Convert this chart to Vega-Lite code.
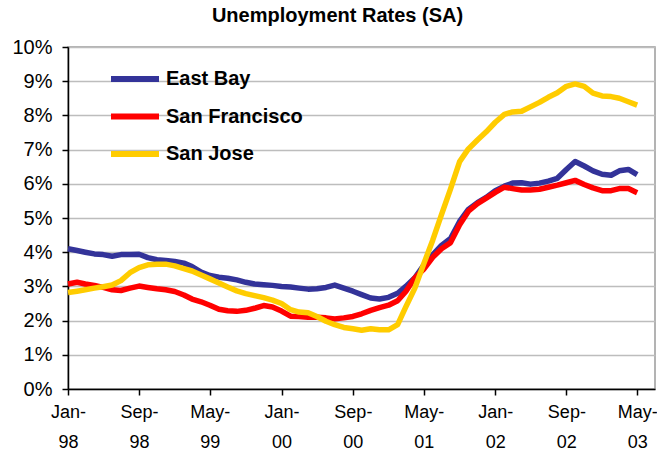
{
  "$schema": "https://vega.github.io/schema/vega-lite/v6.json",
  "width": 587,
  "height": 342,
  "autosize": {"type": "none"},
  "padding": {"left": 68, "top": 47, "right": 2, "bottom": 67},
  "background": "white",
  "title": {"text": "Unemployment Rates (SA)", "font": "Liberation Sans", "fontSize": 20, "fontWeight": "bold", "color": "black", "anchor": "middle", "dx": -24, "offset": 11},
  "config": {
    "view": {"stroke": "#9a9a9a", "strokeWidth": 1.5},
    "font": "Liberation Sans"
  },
  "data": {"values": [
    {"d":"1998-01-01","East Bay":4.10,"San Francisco":3.07,"San Jose":2.82},
    {"d":"1998-02-01","East Bay":4.05,"San Francisco":3.12,"San Jose":2.86},
    {"d":"1998-03-01","East Bay":4.00,"San Francisco":3.07,"San Jose":2.90},
    {"d":"1998-04-01","East Bay":3.95,"San Francisco":3.03,"San Jose":2.95},
    {"d":"1998-05-01","East Bay":3.93,"San Francisco":2.97,"San Jose":2.99},
    {"d":"1998-06-01","East Bay":3.88,"San Francisco":2.90,"San Jose":3.04},
    {"d":"1998-07-01","East Bay":3.93,"San Francisco":2.88,"San Jose":3.17},
    {"d":"1998-08-01","East Bay":3.93,"San Francisco":2.95,"San Jose":3.40},
    {"d":"1998-09-01","East Bay":3.94,"San Francisco":3.01,"San Jose":3.55},
    {"d":"1998-10-01","East Bay":3.84,"San Francisco":2.97,"San Jose":3.63},
    {"d":"1998-11-01","East Bay":3.78,"San Francisco":2.93,"San Jose":3.65},
    {"d":"1998-12-01","East Bay":3.76,"San Francisco":2.90,"San Jose":3.65},
    {"d":"1999-01-01","East Bay":3.73,"San Francisco":2.85,"San Jose":3.60},
    {"d":"1999-02-01","East Bay":3.68,"San Francisco":2.75,"San Jose":3.52},
    {"d":"1999-03-01","East Bay":3.58,"San Francisco":2.63,"San Jose":3.45},
    {"d":"1999-04-01","East Bay":3.42,"San Francisco":2.55,"San Jose":3.33},
    {"d":"1999-05-01","East Bay":3.32,"San Francisco":2.45,"San Jose":3.22},
    {"d":"1999-06-01","East Bay":3.27,"San Francisco":2.33,"San Jose":3.10},
    {"d":"1999-07-01","East Bay":3.24,"San Francisco":2.29,"San Jose":2.98},
    {"d":"1999-08-01","East Bay":3.19,"San Francisco":2.27,"San Jose":2.87},
    {"d":"1999-09-01","East Bay":3.12,"San Francisco":2.30,"San Jose":2.79},
    {"d":"1999-10-01","East Bay":3.07,"San Francisco":2.36,"San Jose":2.73},
    {"d":"1999-11-01","East Bay":3.05,"San Francisco":2.44,"San Jose":2.67},
    {"d":"1999-12-01","East Bay":3.03,"San Francisco":2.40,"San Jose":2.60},
    {"d":"2000-01-01","East Bay":3.00,"San Francisco":2.28,"San Jose":2.50},
    {"d":"2000-02-01","East Bay":2.98,"San Francisco":2.13,"San Jose":2.32},
    {"d":"2000-03-01","East Bay":2.95,"San Francisco":2.12,"San Jose":2.25},
    {"d":"2000-04-01","East Bay":2.92,"San Francisco":2.10,"San Jose":2.23},
    {"d":"2000-05-01","East Bay":2.93,"San Francisco":2.10,"San Jose":2.12},
    {"d":"2000-06-01","East Bay":2.97,"San Francisco":2.08,"San Jose":1.98},
    {"d":"2000-07-01","East Bay":3.04,"San Francisco":2.05,"San Jose":1.88},
    {"d":"2000-08-01","East Bay":2.95,"San Francisco":2.08,"San Jose":1.80},
    {"d":"2000-09-01","East Bay":2.86,"San Francisco":2.12,"San Jose":1.76},
    {"d":"2000-10-01","East Bay":2.76,"San Francisco":2.20,"San Jose":1.72},
    {"d":"2000-11-01","East Bay":2.66,"San Francisco":2.30,"San Jose":1.76},
    {"d":"2000-12-01","East Bay":2.63,"San Francisco":2.38,"San Jose":1.73},
    {"d":"2001-01-01","East Bay":2.68,"San Francisco":2.45,"San Jose":1.73},
    {"d":"2001-02-01","East Bay":2.80,"San Francisco":2.58,"San Jose":1.88},
    {"d":"2001-03-01","East Bay":3.00,"San Francisco":2.85,"San Jose":2.40},
    {"d":"2001-04-01","East Bay":3.25,"San Francisco":3.25,"San Jose":2.95},
    {"d":"2001-05-01","East Bay":3.62,"San Francisco":3.50,"San Jose":3.65},
    {"d":"2001-06-01","East Bay":3.92,"San Francisco":3.85,"San Jose":4.35},
    {"d":"2001-07-01","East Bay":4.20,"San Francisco":4.10,"San Jose":5.10},
    {"d":"2001-08-01","East Bay":4.40,"San Francisco":4.28,"San Jose":5.85},
    {"d":"2001-09-01","East Bay":4.90,"San Francisco":4.80,"San Jose":6.65},
    {"d":"2001-10-01","East Bay":5.25,"San Francisco":5.20,"San Jose":7.02},
    {"d":"2001-11-01","East Bay":5.45,"San Francisco":5.42,"San Jose":7.28},
    {"d":"2001-12-01","East Bay":5.60,"San Francisco":5.58,"San Jose":7.52},
    {"d":"2002-01-01","East Bay":5.80,"San Francisco":5.75,"San Jose":7.80},
    {"d":"2002-02-01","East Bay":5.93,"San Francisco":5.90,"San Jose":8.03},
    {"d":"2002-03-01","East Bay":6.02,"San Francisco":5.86,"San Jose":8.10},
    {"d":"2002-04-01","East Bay":6.03,"San Francisco":5.82,"San Jose":8.12},
    {"d":"2002-05-01","East Bay":5.99,"San Francisco":5.82,"San Jose":8.25},
    {"d":"2002-06-01","East Bay":6.02,"San Francisco":5.84,"San Jose":8.38},
    {"d":"2002-07-01","East Bay":6.08,"San Francisco":5.90,"San Jose":8.53},
    {"d":"2002-08-01","East Bay":6.16,"San Francisco":5.96,"San Jose":8.66},
    {"d":"2002-09-01","East Bay":6.42,"San Francisco":6.03,"San Jose":8.85},
    {"d":"2002-10-01","East Bay":6.65,"San Francisco":6.10,"San Jose":8.92},
    {"d":"2002-11-01","East Bay":6.52,"San Francisco":5.98,"San Jose":8.85},
    {"d":"2002-12-01","East Bay":6.38,"San Francisco":5.88,"San Jose":8.65},
    {"d":"2003-01-01","East Bay":6.28,"San Francisco":5.80,"San Jose":8.57},
    {"d":"2003-02-01","East Bay":6.25,"San Francisco":5.80,"San Jose":8.55},
    {"d":"2003-03-01","East Bay":6.38,"San Francisco":5.86,"San Jose":8.50},
    {"d":"2003-04-01","East Bay":6.42,"San Francisco":5.86,"San Jose":8.40},
    {"d":"2003-05-01","East Bay":6.27,"San Francisco":5.74,"San Jose":8.30}
  ]},
  "transform": [{"fold": ["East Bay", "San Francisco", "San Jose"], "as": ["series", "rate"]}],
  "mark": {"type": "line", "strokeWidth": 5.5, "strokeJoin": "round", "strokeCap": "butt", "clip": false},
  "encoding": {
    "x": {
      "field": "d", "type": "temporal",
      "scale": {"type": "utc", "domain": [{"year": 1998, "month": 1, "date": 1, "utc": true}, {"year": 2003, "month": 7, "date": 1, "utc": true}]},
      "axis": {
        "title": null,
        "values": [
          {"year": 1998, "month": 1, "date": 1, "utc": true},
          {"year": 1998, "month": 9, "date": 1, "utc": true},
          {"year": 1999, "month": 5, "date": 1, "utc": true},
          {"year": 2000, "month": 1, "date": 1, "utc": true},
          {"year": 2000, "month": 9, "date": 1, "utc": true},
          {"year": 2001, "month": 5, "date": 1, "utc": true},
          {"year": 2002, "month": 1, "date": 1, "utc": true},
          {"year": 2002, "month": 9, "date": 1, "utc": true},
          {"year": 2003, "month": 5, "date": 1, "utc": true}
        ],
        "labelExpr": "[utcFormat(datum.value, '%b-'), utcFormat(datum.value, '%y')]",
        "labelFont": "Liberation Sans", "labelFontSize": 18, "labelColor": "black",
        "labelLineHeight": 30, "labelPadding": 8, "labelAlign": "center", "labelBaseline": "top",
        "labelFlush": false, "labelOverlap": false,
        "domainColor": "black", "domainWidth": 1.5,
        "tickColor": "black", "tickSize": 6, "tickWidth": 1.5,
        "grid": false
      }
    },
    "y": {
      "field": "rate", "type": "quantitative",
      "scale": {"domain": [0, 10], "nice": false},
      "axis": {
        "title": null,
        "values": [0,1,2,3,4,5,6,7,8,9,10],
        "labelExpr": "datum.value + '%'",
        "labelFont": "Liberation Sans", "labelFontSize": 20, "labelColor": "black",
        "labelPadding": 10,
        "domainColor": "black", "domainWidth": 1.5,
        "tickColor": "black", "tickSize": 6, "tickWidth": 1.5,
        "grid": true, "gridColor": "#bdbdbd", "gridWidth": 1.5
      }
    },
    "color": {
      "field": "series", "type": "nominal",
      "scale": {"domain": ["East Bay", "San Francisco", "San Jose"], "range": ["#333399", "#ff0000", "#ffcc00"]},
      "legend": {
        "title": null, "orient": "none", "legendX": 54, "legendY": 19,
        "symbolType": "M-2.4,0H2.4", "symbolSize": 400, "symbolStrokeWidth": 6,
        "labelFont": "Liberation Sans", "labelFontSize": 20, "labelFontWeight": "bold", "labelColor": "black",
        "labelOffset": 18, "rowPadding": 12.5
      }
    }
  }
}
